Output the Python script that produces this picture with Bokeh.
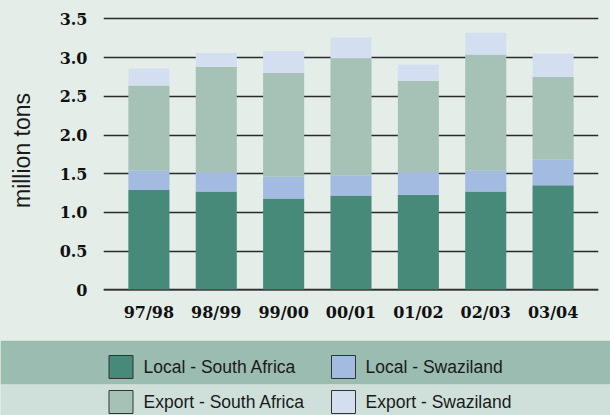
from bokeh.plotting import figure
from bokeh.models import FactorRange, Range1d, FixedTicker, NumeralTickFormatter, ColumnDataSource, Span
from bokeh.core.properties import value
from bokeh.embed import file_html
from bokeh.resources import INLINE

# ---- data ----
years = ["97/98", "98/99", "99/00", "00/01", "01/02", "02/03", "03/04"]
local_sa = [1.29, 1.27, 1.18, 1.22, 1.23, 1.27, 1.35]
local_sw = [0.25, 0.25, 0.28, 0.26, 0.29, 0.27, 0.33]
export_sa = [1.10, 1.36, 1.34, 1.51, 1.18, 1.50, 1.07]
export_sw = [0.22, 0.18, 0.28, 0.27, 0.21, 0.28, 0.30]
series_keys = ["local_sa", "local_sw", "export_sa", "export_sw"]
series_labels = ["Local - South Africa", "Local - Swaziland", "Export - South Africa", "Export - Swaziland"]
colors = ["#488a79", "#a3bbe0", "#a6c2b7", "#d3dff0"]
y_ticks = [0, 0.5, 1.0, 1.5, 2.0, 2.5, 3.0, 3.5]

BG = "#e4ede8"
SERIF = "DejaVu Serif"
SANS = "Liberation Sans"

src = ColumnDataSource(dict(years=years, local_sa=local_sa, local_sw=local_sw,
                            export_sa=export_sa, export_sw=export_sw))

p = figure(width=610, height=340, output_backend="svg", toolbar_location=None,
           x_range=FactorRange(*years, range_padding=0.174, range_padding_units="absolute"),
           y_range=Range1d(-0.02, 3.62),
           min_border_left=103, min_border_right=12, min_border_top=9, min_border_bottom=49)
p.background_fill_color = BG
p.border_fill_color = BG
p.outline_line_color = None

p.vbar_stack(series_keys, x="years", width=0.61, color=colors, line_color=None, source=src)

p.add_layout(Span(location=0, dimension="width", line_color="#333333", line_width=2, line_alpha=0.6))

p.xgrid.grid_line_color = None
p.ygrid.grid_line_color = "#2a2a2a"
p.ygrid.grid_line_width = 1.6
p.ygrid.level = "underlay"
p.yaxis.ticker = FixedTicker(ticks=y_ticks)
p.yaxis.formatter = NumeralTickFormatter(format="0.0")
p.yaxis.major_label_overrides = {0: "0"}

for ax in (p.xaxis[0], p.yaxis[0]):
    ax.axis_line_color = None
    ax.major_tick_line_color = None
    ax.minor_tick_line_color = None
    ax.major_label_text_font = SERIF
    ax.major_label_text_font_style = "bold"
    ax.major_label_text_font_size = "16px"
    ax.major_label_text_color = "#111111"

p.yaxis.major_label_standoff = 10
p.xaxis.major_label_standoff = 5
p.yaxis.axis_label = "million tons"
p.yaxis.axis_label_text_font = SANS
p.yaxis.axis_label_text_font_style = "normal"
p.yaxis.axis_label_text_font_size = "23px"
p.yaxis.axis_label_text_color = "#1a1a1a"
p.yaxis.axis_label_standoff = 22

# ---- legend panel ----
lg = figure(width=610, height=75, output_backend="svg", toolbar_location=None,
            x_range=Range1d(0, 610), y_range=Range1d(75, 0),
            min_border=0, x_axis_location=None, y_axis_location=None)
lg.background_fill_color = BG
lg.border_fill_color = BG
lg.outline_line_color = None
lg.grid.visible = False
lg.quad(left=[0, 0], right=[610, 610], top=[0, 44], bottom=[44, 75],
        color=["#9bbcb1", "#cfe0da"], line_color=None)
sw_x = [120.5, 343, 120.5, 343]
sw_y = [26.5, 26.5, 61.5, 61.5]
lg.rect(x=sw_x, y=sw_y, width=24, height=23, fill_color=colors,
        line_color="#333333", line_width=1)
lg.text(x=[143, 365, 143, 365], y=sw_y, text=series_labels,
        text_font=value(SANS), text_font_size="17.5px", text_color="#1a1a1a",
        text_baseline="middle", text_align="left")

html = file_html([p, lg], INLINE)
html = html.replace("<head>", "<head><style>html,body{margin:0;padding:0;background:%s;overflow:hidden}</style>" % BG, 1)
open("out.html", "w").write(html)
